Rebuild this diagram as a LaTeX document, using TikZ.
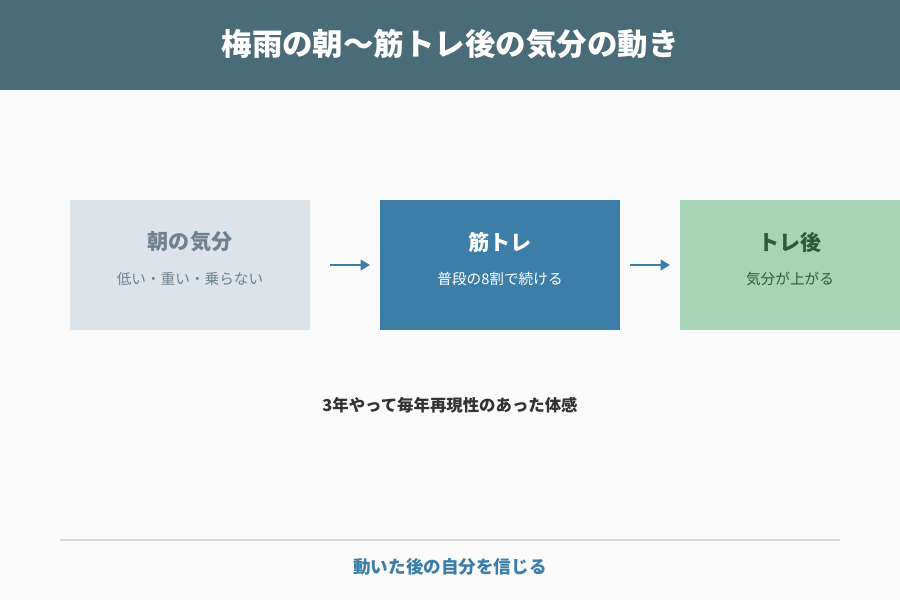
\documentclass[tikz,border=0pt]{standalone}
\usepackage{fontspec}
\setmainfont{Noto Sans CJK JP}
\usetikzlibrary{positioning, arrows.meta}
\definecolor{headbar}{HTML}{4A6B78}
\definecolor{pagebg}{HTML}{FAFAFA}
\definecolor{moodgray}{HTML}{DCE4EA}
\definecolor{moodgraytext}{HTML}{6E8290}
\definecolor{trainblue}{HTML}{3C7EA8}
\definecolor{aftergreen}{HTML}{A6D4B4}
\definecolor{aftergreentext}{HTML}{2D5A3A}
\definecolor{darktext}{HTML}{333333}
\begin{document}
\begin{tikzpicture}[
    x=0.03cm, y=-0.03cm,
    stage/.style={rectangle, minimum width=7.2cm, minimum height=3.9cm, inner sep=0pt},
    flow/.style={-{Triangle[length=8pt,width=9pt]}, line width=2.5pt, trainblue}
]
    % Background and header
    \fill[pagebg] (0,0) rectangle (900,600);
    \fill[headbar] (0,0) rectangle (900,90);
    \node[font=\bfseries\fontsize{26}{30}\selectfont, text=white] (title) at (450,44) {梅雨の朝〜筋トレ後の気分の動き};

    % Stages
    \node[stage, fill=moodgray] (morning) at (190,265) {};
    \node[stage, fill=trainblue] (train) at (500,265) {};
    \fill[aftergreen] (680,200) rectangle (900,330);
    \coordinate (after) at (790,265);

    \node[font=\bfseries\fontsize{18}{22}\selectfont, text=moodgraytext] at (190,242) {朝の気分};
    \node[font=\fontsize{12.5}{15}\selectfont, text=moodgraytext] at (190,279) {低い・重い・乗らない};
    \node[font=\bfseries\fontsize{18}{22}\selectfont, text=white] at (500,242) {筋トレ};
    \node[font=\fontsize{12.5}{15}\selectfont, text=white] at (500,279) {普段の8割で続ける};
    \node[font=\bfseries\fontsize{18}{22}\selectfont, text=aftergreentext] at (790,242) {トレ後};
    \node[font=\fontsize{12.5}{15}\selectfont, text=aftergreentext] at (790,279) {気分が上がる};

    % Arrows
    \coordinate (a1) at (330,265);
    \coordinate (a2) at (370,265);
    \coordinate (b1) at (630,265);
    \coordinate (b2) at (670,265);
    \draw[flow] (a1) -- (a2);
    \draw[flow] (b1) -- (b2);

    % Notes
    \node[font=\bfseries\fontsize{14}{17}\selectfont, text=darktext] (note) at (450,405) {3年やって毎年再現性のあった体感};
    \coordinate (l1) at (60,540);
    \coordinate (l2) at (840,540);
    \draw[black!15, line width=1pt] (l1) -- (l2);
    \node[font=\bfseries\fontsize{15}{18}\selectfont, text=trainblue] (motto) at (450,567) {動いた後の自分を信じる};
\end{tikzpicture}
\end{document}
